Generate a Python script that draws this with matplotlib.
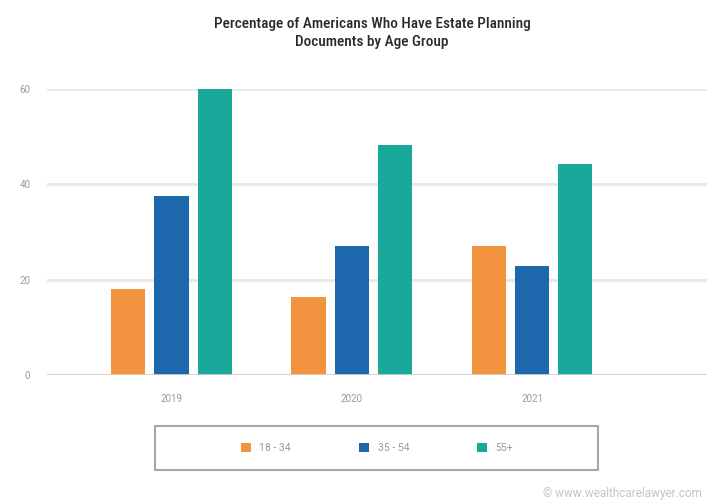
import matplotlib
matplotlib.use("Agg")
import matplotlib.pyplot as plt
import numpy as np
from matplotlib.patches import Rectangle

years = ["2019", "2020", "2021"]
age_groups = ["18 - 34", "35 - 54", "55+"]
pct_18_34 = [18, 16.4, 27]
pct_35_54 = [37.5, 27, 22.9]
pct_55_plus = [60, 48.3, 44.2]
colors = ["#F2943F", "#1D67AD", "#19A99A"]

plt.rcParams["font.family"] = ["Roboto", "DejaVu Sans"]

fig = plt.figure(figsize=(7.07, 5.0), dpi=100)
ax = fig.add_axes([0.0665, 0.25, 0.9335, 0.572])

x = np.arange(len(years))
offset = 0.24
width = 0.19
series = [pct_18_34, pct_35_54, pct_55_plus]
for i, (vals, label) in enumerate(zip(series, age_groups)):
    ax.bar(x + (i - 1) * offset, vals, width, color=colors[i], label=label,
           zorder=3, clip_on=False)

ax.set_xlim(-0.69, 2.97)
ax.set_ylim(0, 60)
ax.set_yticks([0, 20, 40, 60])
ax.set_xticks(x)
ax.set_xticklabels(years)
ax.tick_params(axis="both", length=0, colors="#9a9a9a", labelsize=7)
ax.tick_params(axis="y", pad=12)
ax.tick_params(axis="x", pad=14)
ax.grid(axis="y", color="#e8e8e8", linewidth=2, zorder=0)
for s in ax.spines.values():
    s.set_visible(False)
ax.axhline(0, color="#d0d0d0", linewidth=2, zorder=4)

fig.text(372 / 707, 1 - 33 / 500, "Percentage of Americans Who Have Estate Planning\nDocuments by Age Group",
         ha="center", va="center", fontsize=11, color="#2a2a2a", fontweight="medium",
         family=["Roboto Condensed", "DejaVu Sans"], linespacing=1.4)

# legend box
fig.patches.append(Rectangle((155 / 707, 1 - 470 / 500), 443 / 707, 44 / 500,
                             transform=fig.transFigure, fill=False,
                             edgecolor="#a8a8a8", linewidth=1.5))
handles, labels = ax.get_legend_handles_labels()
fig.legend(handles, labels, loc="center", bbox_to_anchor=(377 / 707, 1 - 448 / 500),
           ncol=3, frameon=False, fontsize=7.5, handlelength=1.0, handleheight=1.0,
           handletextpad=0.8, columnspacing=6.5, labelcolor="#9a9a9a")

fig.text(702 / 707, 1 - 494 / 500, "\u00a9 www.wealthcarelawyer.com", ha="right",
         va="center", fontsize=8.5, color="#c4c4c4")

fig.savefig("out.png", dpi=100)
